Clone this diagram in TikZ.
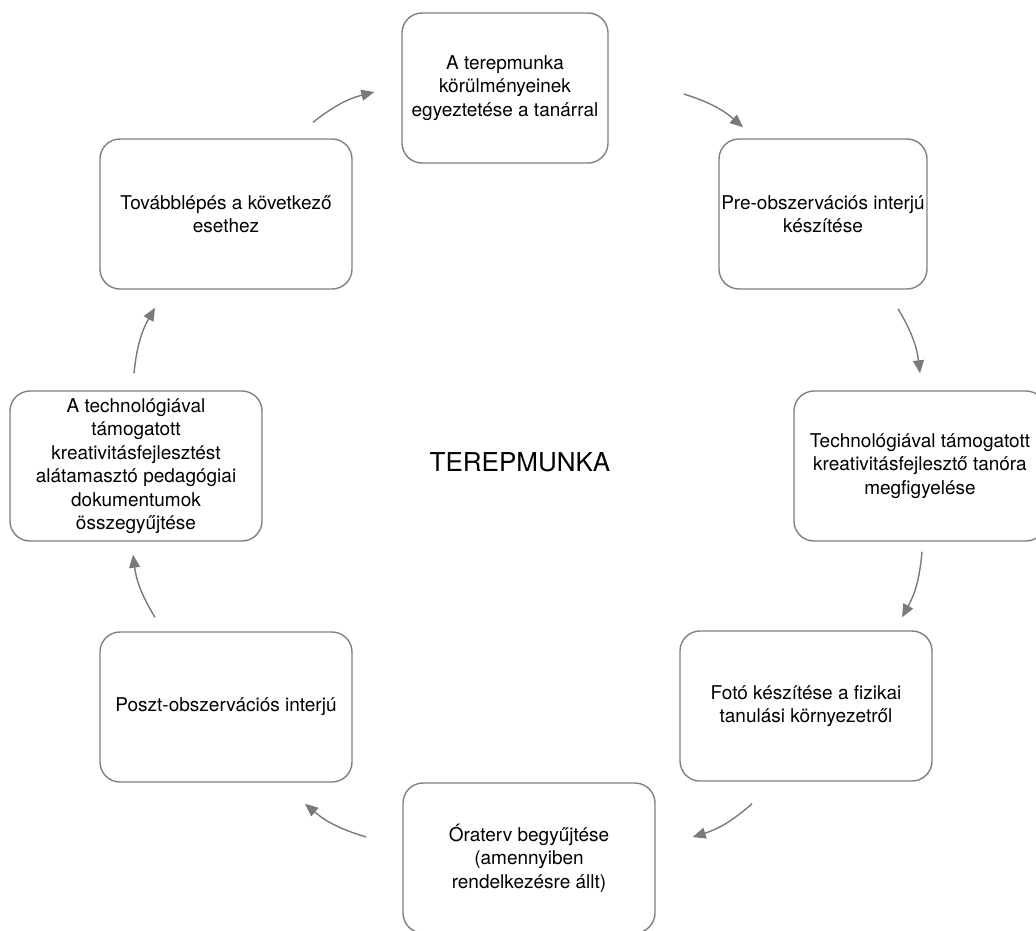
\documentclass[tikz,border=0pt]{standalone}
\usepackage{fontspec}
\setmainfont{TeX Gyre Heros}
\usetikzlibrary{arrows.meta}
\definecolor{linegray}{HTML}{808080}
\definecolor{arrowgray}{HTML}{7A7A7A}

\begin{document}
\begin{tikzpicture}[x=1pt,y=1pt,
    box/.style={draw=linegray, line width=1.4pt, rounded corners=20pt, minimum width=252pt, minimum height=150pt, align=center, inner sep=2pt, font=\fontsize{19}{23.5}\selectfont},
    cyc/.style={draw=arrowgray, line width=1.4pt, -{Triangle[length=13pt,width=11pt]}}]
    \useasboundingbox (0,0) rectangle (1036,-930);
    \node[box, minimum width=206pt] (b1) at (505,-88) {A terepmunka\\körülményeinek\\egyeztetése a tanárral};
    \node[box, minimum width=208pt] (b2) at (823,-214) {Pre-obszervációs interjú\\készítése};
    \node[box] (b3) at (920,-466) {Technológiával támogatott\\kreativitásfejlesztő tanóra\\megfigyelése};
    \node[box] (b4) at (806,-706) {Fotó készítése a fizikai\\tanulási környezetről};
    \node[box] (b5) at (529,-858) {Óraterv begyűjtése\\(amennyiben\\rendelkezésre állt)};
    \node[box] (b6) at (226,-707) {Poszt-obszervációs interjú};
    \node[box] (b7) at (136,-466) {A technológiával\\támogatott\\kreativitásfejlesztést\\alátamasztó pedagógiai\\dokumentumok\\összegyűjtése};
    \node[box] (b8) at (226,-214) {Továbblépés a következő\\esethez};
    \node[font=\fontsize{26}{30}\selectfont] (title) at (520,-462) {TEREPMUNKA};
    % cycle arrows
    \draw[cyc] ([shift={(87,16)}]b8.north) to[bend left=12] ([shift={(-27,-4)}]b1.west);
    \draw[cyc] ([shift={(75,-6)}]b1.east) to[bend left=12] ([shift={(-80,11)}]b2.north);
    \draw[cyc] ([shift={(75,-19)}]b2.south) to[bend left=12] ([shift={(0,17)}]b3.north);
    \draw[cyc] ([shift={(2,-10)}]b3.south) to[bend left=12] ([shift={(96,13)}]b4.north);
    \draw[cyc] ([shift={(-54,-22)}]b4.south) to[bend left=12] ([shift={(37,21)}]b5.east);
    \draw[cyc] ([shift={(-36,21)}]b5.west) to[bend left=12] ([shift={(79,-21)}]b6.south);
    \draw[cyc] ([shift={(-71,14)}]b6.north) to[bend left=12] ([shift={(-3,-13)}]b7.south);
    \draw[cyc] ([shift={(-2,17)}]b7.north) to[bend left=12] ([shift={(-71,-18)}]b8.south);
\end{tikzpicture}
\end{document}
